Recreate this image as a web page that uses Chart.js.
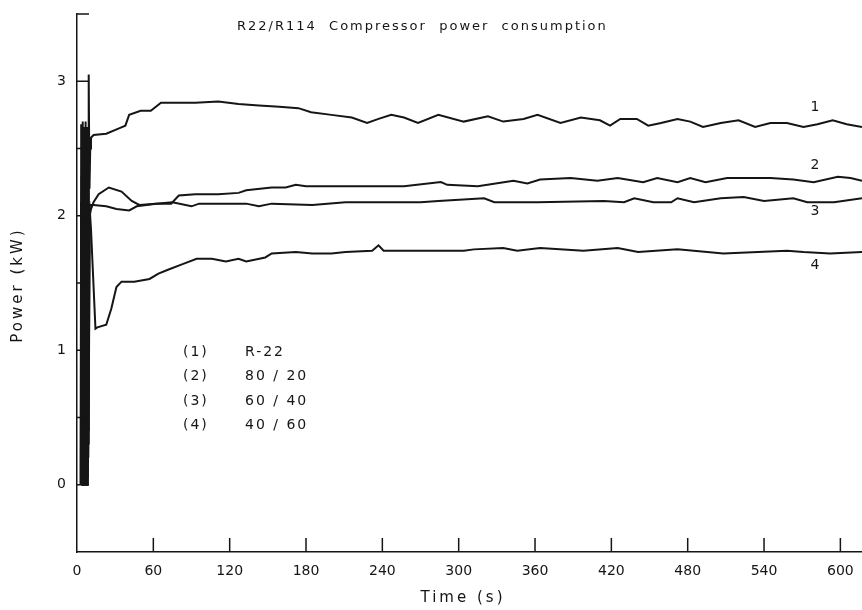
<!DOCTYPE html>
<html>
<head>
<meta charset="utf-8">
<script src="https://cdn.jsdelivr.net/npm/chart.js@4.4.1/dist/chart.umd.min.js"></script>
<style>
  html, body { margin: 0; padding: 0; background: #fff; }
  #wrap { width: 862px; height: 610px; }
</style>
</head>
<body>
<div id="wrap"><canvas id="chart1"></canvas></div>
<script>
// R22/R114 - compressor power (kW) against time (s)

// (1) R-22
var t1 = [3.0, 3.3, 3.6, 3.9, 4.2, 4.5, 4.8, 5.1, 5.4, 5.7, 6.0, 6.3, 6.6, 6.9, 7.2, 7.5, 7.8, 8.1, 8.4, 8.7, 9.0,
  9.4, 9.8, 10.4, 11,
  13, 23, 33, 38, 41, 50, 58, 66, 80, 93, 111, 127, 143, 159, 174, 184, 200, 216, 228, 237,
  247, 257, 268, 284, 304, 323, 335, 351, 362, 380, 396, 411, 419, 427, 440, 449, 459, 472, 482, 492,
  506, 520, 533, 545, 558, 571, 582, 594, 605, 617];
var p1 = [0.0, 2.68, 0.05, 2.6, 0.02, 2.7, 0.1, 2.62, 0.0, 2.66, 0.05, 2.58, 0.0, 2.7, 0.08, 2.6, 0.0, 2.66, 0.1, 2.55, 0.3,
  3.05, 2.2, 2.5, 2.58,
  2.60, 2.61, 2.65, 2.67, 2.75, 2.78, 2.78, 2.84, 2.84, 2.84, 2.85, 2.83, 2.82, 2.81, 2.80, 2.77, 2.75, 2.73, 2.69, 2.72,
  2.75, 2.73, 2.69, 2.75, 2.70, 2.74, 2.70, 2.72, 2.75, 2.69, 2.73, 2.71, 2.67, 2.72, 2.72, 2.67, 2.69, 2.72, 2.70, 2.66,
  2.69, 2.71, 2.66, 2.69, 2.69, 2.66, 2.68, 2.71, 2.68, 2.66];

// (2) 80 / 20
var t2 = [3.15, 3.45, 3.75, 4.05, 4.35, 4.65, 4.95, 5.25, 5.55, 5.85, 6.15, 6.45, 6.75, 7.05, 7.35, 7.65, 7.95, 8.25, 8.55, 8.85, 9.15,
  10, 11, 13, 17, 25, 35, 43, 49, 62, 74, 80, 93, 111, 127, 133, 153, 164,
  172, 180, 206, 231, 257, 286, 291, 315, 343, 354, 364, 388, 409, 425, 445, 456, 472, 482, 494, 511,
  527, 545, 563, 579, 598, 608, 617];
var p2 = [0.05, 2.3, 0.0, 2.25, 0.1, 2.3, 0.0, 2.2, 0.05, 2.28, 0.0, 2.22, 0.1, 2.3, 0.02, 2.25, 0.0, 2.2, 0.08, 2.25, 0.4,
  2.0, 2.05, 2.10, 2.16, 2.21, 2.18, 2.11, 2.08, 2.09, 2.09, 2.15, 2.16, 2.16, 2.17, 2.19, 2.21, 2.21,
  2.23, 2.22, 2.22, 2.22, 2.22, 2.25, 2.23, 2.22, 2.26, 2.24, 2.27, 2.28, 2.26, 2.28, 2.25, 2.28, 2.25, 2.28, 2.25, 2.28,
  2.28, 2.28, 2.27, 2.25, 2.29, 2.28, 2.26];

// (3) 60 / 40
var t3 = [2.9, 3.2, 3.5, 3.8, 4.1, 4.4, 4.7, 5.0, 5.3, 5.6, 5.9, 6.2, 6.5, 6.8, 7.1, 7.4, 7.7, 8.0, 8.3, 8.6, 8.9,
  10, 13, 23, 31, 41, 47, 62, 75, 90, 96, 133, 143, 153, 185, 211, 237, 244,
  257, 270, 284, 320, 328, 362, 414, 430, 438, 453, 467, 472, 485, 506, 524, 540, 563, 574, 595, 617];
var p3 = [0.0, 2.1, 0.05, 2.05, 0.0, 2.1, 0.1, 2.0, 0.0, 2.1, 0.05, 2.05, 0.0, 2.1, 0.08, 2.0, 0.0, 2.1, 0.05, 2.0, 0.2,
  2.08, 2.08, 2.07, 2.05, 2.04, 2.07, 2.09, 2.10, 2.07, 2.09, 2.09, 2.07, 2.09, 2.08, 2.10, 2.10, 2.10,
  2.10, 2.10, 2.11, 2.13, 2.10, 2.10, 2.11, 2.10, 2.13, 2.10, 2.10, 2.13, 2.10, 2.13, 2.14, 2.11, 2.13, 2.10, 2.10, 2.13];

// (4) 40 / 60
var t4 = [3.05, 3.35, 3.65, 3.95, 4.25, 4.55, 4.85, 5.15, 5.45, 5.75, 6.05, 6.35, 6.65, 6.95, 7.25, 7.55, 7.85, 8.15, 8.45, 8.75, 9.05,
  10, 11, 14.5, 16, 23, 27, 31, 35, 45, 57, 64, 72, 83, 94, 106, 117, 127, 133,
  148, 153, 172, 185, 200, 211, 232, 237, 241, 304, 312, 335, 346, 364, 398, 425, 441, 472, 508, 558,
  571, 592, 617];
var p4 = [0.02, 2.0, 0.0, 1.95, 0.05, 2.0, 0.0, 1.9, 0.1, 2.0, 0.0, 1.95, 0.05, 2.0, 0.0, 1.9, 0.1, 2.0, 0.0, 1.95, 2.0,
  2.05, 1.9, 1.16, 1.17, 1.19, 1.31, 1.47, 1.51, 1.51, 1.53, 1.57, 1.60, 1.64, 1.68, 1.68, 1.66, 1.68, 1.66,
  1.69, 1.72, 1.73, 1.72, 1.72, 1.73, 1.74, 1.78, 1.74, 1.74, 1.75, 1.76, 1.74, 1.76, 1.74, 1.76, 1.73, 1.75, 1.72, 1.74,
  1.73, 1.72, 1.73];

var seriesTags = ['(1)', '(2)', '(3)', '(4)'];
var seriesNames = ['R-22', '80 / 20', '60 / 40', '40 / 60'];
var curveNumbers = ['1', '2', '3', '4'];

var xLabelTicks = [0, 60, 120, 180, 240, 300, 360, 420, 480, 540, 600];
var xMarkTicks = [60, 120, 180, 240, 300, 360, 420, 480, 540, 600];
var yLabelTicks = [0, 1, 2, 3];
var yMarkTicks = [0, 0.5, 1, 1.5, 2, 2.5, 3, 3.5];

function pairUp(ts, ps) {
  var out = [];
  for (var i = 0; i < ts.length; i++) out.push({ x: ts[i], y: ps[i] });
  return out;
}

var ink = '#151515';
var font = '"DejaVu Sans", sans-serif';
var clear = 'rgba(0,0,0,0)';

// tick marks point into the plot like on the original, plus the printed notes
var paperMarks = {
  id: 'paperMarks',
  afterDraw: function(chart) {
    var ctx = chart.ctx, xs = chart.scales.x, ys = chart.scales.y, a = chart.chartArea;
    ctx.save();
    ctx.strokeStyle = ink;
    ctx.lineWidth = 1.5;
    ctx.beginPath();
    xMarkTicks.forEach(function(v) {
      var px = xs.getPixelForValue(v);
      ctx.moveTo(px, a.bottom);
      ctx.lineTo(px, a.bottom - 14);
    });
    yMarkTicks.forEach(function(v) {
      var py = ys.getPixelForValue(v);
      ctx.moveTo(a.left, py);
      ctx.lineTo(a.left + 12, py);
    });
    ctx.stroke();

    ctx.fillStyle = ink;
    ctx.textBaseline = 'middle';

    // title inside the frame
    ctx.font = '13px ' + font;
    ctx.letterSpacing = '2px';
    ctx.textAlign = 'left';
    ctx.fillText('R22/R114  Compressor  power  consumption', 237, 27);

    // key
    ctx.font = '14px ' + font;
    ctx.letterSpacing = '2px';
    for (var i = 0; i < seriesTags.length; i++) {
      var y = 352 + i * 24.5;
      ctx.fillText(seriesTags[i], 183, y);
      ctx.fillText(seriesNames[i], 245, y);
    }

    // axis titles
    ctx.font = '15px ' + font;
    ctx.letterSpacing = '3px';
    ctx.textAlign = 'center';
    ctx.fillText('Time (s)', 463, 598);
    ctx.save();
    ctx.translate(18, 285);
    ctx.rotate(-Math.PI / 2);
    ctx.fillText('Power (kW)', 0, 0);
    ctx.restore();

    // curve numbers near the right end
    ctx.font = '14px ' + font;
    ctx.letterSpacing = '0px';
    var ends = [p1, p2, p3, p4];
    var shift = [-20, -15, 13, 13];
    for (var j = 0; j < ends.length; j++) {
      var last = ends[j][ends[j].length - 1];
      ctx.fillText(curveNumbers[j], xs.getPixelForValue(580), ys.getPixelForValue(last) + shift[j]);
    }
    ctx.restore();
  }
};

function lineSet(label, ts, ps) {
  return {
    label: label,
    data: pairUp(ts, ps),
    borderColor: ink,
    borderWidth: 2,
    pointRadius: 0,
    tension: 0,
    fill: false
  };
}

var ctx1 = document.getElementById('chart1').getContext('2d');
var chart1 = new Chart(ctx1, {
  type: 'line',
  data: {
    datasets: [
      lineSet(seriesNames[0], t1, p1),
      lineSet(seriesNames[1], t2, p2),
      lineSet(seriesNames[2], t3, p3),
      lineSet(seriesNames[3], t4, p4)
    ]
  },
  options: {
    responsive: true,
    maintainAspectRatio: false,
    animation: false,
    layout: { padding: { top: 14, right: 0, left: 0, bottom: 0 } },
    plugins: {
      legend: { display: false },
      tooltip: { enabled: false }
    },
    scales: {
      x: {
        type: 'linear',
        min: 0,
        max: 617,
        afterBuildTicks: function(s) { s.ticks = xLabelTicks.map(function(v) { return { value: v }; }); },
        afterFit: function(s) { s.height = 58; },
        grid: { display: true, drawOnChartArea: false, drawTicks: true, tickLength: 10, color: clear },
        border: { display: true, color: ink, width: 1.5 },
        ticks: {
          padding: 1,
          maxRotation: 0,
          color: ink,
          font: { family: font, size: 14 }
        }
      },
      y: {
        type: 'linear',
        min: -0.5,
        max: 3.5,
        afterBuildTicks: function(s) { s.ticks = yLabelTicks.map(function(v) { return { value: v }; }); },
        afterFit: function(s) { s.width = 77; },
        grid: { display: true, drawOnChartArea: false, drawTicks: true, tickLength: 11, color: clear },
        border: { display: true, color: ink, width: 1.5 },
        ticks: {
          padding: 0,
          color: ink,
          font: { family: font, size: 14 }
        }
      }
    }
  },
  plugins: [paperMarks]
});
</script>
</body>
</html>
